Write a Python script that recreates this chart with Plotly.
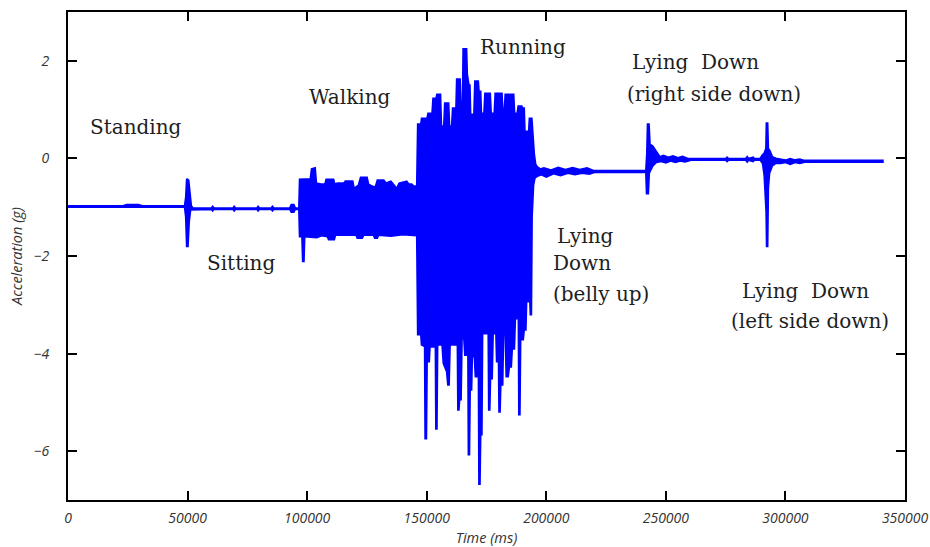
import plotly.graph_objects as go

# Accelerometer trace summarised as its upper and lower envelope:
# (time in ms, acceleration in g). The band between them is the signal.
upper_env = [
    # standing
    (0, -0.975), (23000, -0.975), (24500, -0.95), (29500, -0.95), (31000, -0.975),
    (48800, -0.975), (49300, -0.80), (49700, -0.42), (50400, -0.45), (50900, -0.75),
    (51500, -0.97), (52200, -1.02),
    # sitting
    (60000, -1.02), (60500, -0.99), (61000, -1.02), (69000, -1.02), (69500, -0.99),
    (70000, -1.02), (79000, -1.02), (79500, -0.99), (80000, -1.02), (85000, -1.02),
    (85500, -0.99), (86000, -1.02), (92800, -1.02), (93400, -0.95), (94400, -0.95),
    (95000, -1.02), (96600, -1.02),
    # walking
    (96900, -0.43), (101400, -0.42), (101900, -0.22), (103300, -0.20), (103800, -0.51),
    (105800, -0.53), (107500, -0.53), (108000, -0.43), (111000, -0.43), (111500, -0.53),
    (112800, -0.51), (115400, -0.51), (116000, -0.47), (119000, -0.47), (119600, -0.62),
    (121500, -0.55), (122400, -0.39), (125000, -0.39), (125600, -0.53), (127500, -0.58),
    (128600, -0.58), (129400, -0.45), (132000, -0.45), (133000, -0.51), (135000, -0.47),
    (136500, -0.55), (137500, -0.62), (138500, -0.51), (140500, -0.49), (141600, -0.47),
    (142500, -0.53), (143700, -0.53), (144500, -0.57), (145900, -0.57),
    # running
    (146300, 0.70), (147600, 0.70), (147900, 0.82), (150200, 0.82), (150600, 0.92),
    (152300, 0.92), (152700, 1.23), (154000, 1.23), (154300, 1.31), (155700, 1.31),
    (156100, 0.66), (157200, 0.66), (157600, 1.13), (159100, 1.13), (159500, 0.66),
    (160500, 0.66), (160900, 1.03), (162300, 1.03), (162600, 1.62), (163900, 1.62),
    (164300, 1.00), (165000, 1.00), (165300, 2.24), (166600, 2.24), (166900, 1.72),
    (167600, 1.50), (168000, 1.50), (168300, 0.90), (169800, 0.90), (170200, 1.58),
    (171500, 1.58), (171800, 1.37), (172500, 1.37), (172800, 0.92), (174000, 0.92),
    (174400, 1.33), (176500, 1.33), (176900, 0.92), (178300, 0.92), (178700, 1.33),
    (181400, 1.33), (181800, 0.96), (182500, 0.96), (182900, 1.31), (186300, 1.31),
    (186700, 0.92), (187900, 0.92), (188300, 1.07), (189700, 1.07), (190000, 1.03),
    (190700, 1.03), (191000, 0.55), (192700, 0.55), (193000, 0.82), (193900, 0.82),
    (194300, 0.41), (194900, 0.10), (195500, -0.12),
    # lying down, belly up
    (196300, -0.18), (197500, -0.22), (199000, -0.20), (202000, -0.24), (205000, -0.19),
    (208000, -0.23), (211000, -0.19), (214000, -0.23), (217000, -0.20), (220000, -0.255),
    (241700, -0.255),
    # roll onto the right side
    (242100, 0.10), (242400, 0.70), (242900, 0.70), (243300, 0.29), (244500, 0.25),
    (246300, 0.12), (247500, 0.03), (249000, 0.06), (251000, 0.02), (253000, 0.05),
    (255000, 0.01), (257000, 0.04), (259000, 0.00), (260500, -0.005),
    (275200, -0.005), (275600, 0.03), (276000, -0.005), (283500, -0.005), (284000, 0.03),
    (284500, -0.005), (286500, 0.02), (287000, -0.005),
    # roll onto the left side
    (289500, -0.005), (290300, 0.06), (291100, 0.10), (291900, 0.20), (292100, 0.72),
    (292500, 0.72), (292800, 0.20), (293500, 0.15), (294500, 0.03), (296000, 0.00),
    (298000, -0.02), (300000, -0.04), (302000, -0.01), (304000, -0.035), (306000, -0.02),
    (308000, -0.045), (340700, -0.045),
]

lower_env = [
    # standing
    (0, -0.995), (48800, -0.995), (49300, -1.20), (49700, -1.80), (50100, -1.80),
    (50600, -1.30), (51200, -1.05), (52200, -1.04),
    # sitting
    (60000, -1.04), (60500, -1.07), (61000, -1.04), (69000, -1.04), (69500, -1.07),
    (70000, -1.04), (79000, -1.04), (79500, -1.07), (80000, -1.04), (85000, -1.04),
    (85500, -1.07), (86000, -1.04), (92800, -1.04), (93400, -1.10), (94400, -1.10),
    (95000, -1.04), (96600, -1.04),
    # walking
    (96900, -1.60), (97900, -1.60), (98200, -2.11), (98600, -2.11), (98900, -1.60),
    (104000, -1.62), (106000, -1.58), (108500, -1.60), (109000, -1.66), (111300, -1.66),
    (111800, -1.57), (120500, -1.57), (121000, -1.63), (123000, -1.63), (123600, -1.57),
    (127800, -1.57), (128300, -1.63), (129300, -1.63), (129800, -1.57), (135000, -1.59),
    (140000, -1.56), (145900, -1.58),
    # running
    (146300, -3.61), (147600, -3.61), (147900, -3.82), (149200, -3.85), (149400, -5.74),
    (149800, -5.74), (150100, -4.16), (151000, -4.16), (151300, -3.86), (153700, -3.86),
    (153900, -5.54), (154200, -5.54), (154500, -3.82), (156500, -3.82), (157000, -4.20),
    (158400, -4.37), (158900, -4.64), (159300, -4.64), (159700, -3.82), (162900, -3.82),
    (163100, -5.15), (163400, -5.15), (163700, -4.94), (164300, -4.94), (164700, -3.69),
    (165600, -3.69), (166000, -4.03), (167300, -4.03), (167500, -6.07), (167800, -6.07),
    (168100, -4.74), (168700, -4.74), (169000, -4.06), (170000, -4.06), (170400, -4.47),
    (171700, -4.47), (171900, -6.67), (172200, -6.67), (172500, -5.66), (173000, -5.66),
    (173300, -3.59), (175800, -3.59), (176000, -5.15), (176300, -5.15), (176600, -4.51),
    (177300, -4.51), (177700, -3.59), (179000, -3.59), (179300, -4.16), (180100, -4.16),
    (180300, -5.19), (180600, -5.19), (180900, -4.64), (181700, -4.64), (182100, -3.55),
    (182900, -3.55), (183300, -4.47), (184000, -4.47), (184500, -4.27), (185300, -4.27),
    (185700, -3.90), (186600, -3.90), (187000, -3.28), (188400, -3.28), (188600, -5.25),
    (188900, -5.25), (189200, -3.71), (190300, -3.71), (190700, -3.51), (191400, -3.51),
    (191700, -2.93), (193200, -2.93), (193400, -3.20), (193700, -3.20), (194000, -1.20),
    (194600, -0.55), (195200, -0.40),
    # lying down, belly up
    (196300, -0.36), (198000, -0.33), (200000, -0.38), (203000, -0.31), (206000, -0.35),
    (209000, -0.30), (212000, -0.33), (215000, -0.30), (218000, -0.32), (220000, -0.285),
    (241700, -0.285),
    # roll onto the right side
    (242000, -0.72), (242600, -0.72), (243000, -0.30), (244500, -0.15), (246000, -0.08),
    (248000, -0.06), (250000, -0.09), (252000, -0.05), (254000, -0.08), (256000, -0.05),
    (258000, -0.07), (260500, -0.035),
    (275200, -0.035), (275600, -0.07), (276000, -0.035), (283500, -0.035), (284000, -0.07),
    (284500, -0.035), (286500, -0.06), (287000, -0.035),
    # roll onto the left side
    (289500, -0.035), (290500, -0.10), (291200, -0.35), (291600, -0.80), (292000, -1.10),
    (292200, -1.80), (292500, -1.80), (292800, -0.60), (293300, -0.30), (294500, -0.15),
    (296000, -0.10), (298000, -0.10), (300000, -0.08), (302000, -0.12), (304000, -0.08),
    (306000, -0.10), (308000, -0.075), (340700, -0.075),
]

# Activity labels written on the chart, one entry per text line
label_text = ["Standing", "Sitting", "Walking", "Running",
              "Lying", "Down", "(belly up)",
              "Lying\u00a0 Down", "(right side down)",
              "Lying\u00a0 Down", "(left side down)"]
label_t = [28400, 72300, 117900, 190300,
           216200, 215000, 222900,
           262600, 270200,
           308600, 310300]
label_g = [0.64, -2.15, 1.25, 2.28,
           -1.58, -2.15, -2.77,
           1.97, 1.33,
           -2.71, -3.34]

x_ticks = [0, 50000, 100000, 150000, 200000, 250000, 300000, 350000]
y_ticks = [-6, -4, -2, 0, 2]

BLUE = "#0000ff"

# closed outline: upper envelope forwards, lower envelope backwards
band_t = [p[0] for p in upper_env] + [p[0] for p in reversed(lower_env)]
band_g = [p[1] for p in upper_env] + [p[1] for p in reversed(lower_env)]

fig = go.Figure()
fig.add_trace(go.Scatter(
    x=band_t, y=band_g, mode="lines", fill="toself",
    fillcolor=BLUE, line=dict(color=BLUE, width=2),
    hoverinfo="skip", showlegend=False,
))

for txt, t, g in zip(label_text, label_t, label_g):
    fig.add_annotation(
        x=t, y=g, text=txt, showarrow=False,
        xanchor="center", yanchor="middle",
        font=dict(family="DejaVu Serif", size=20, color="#1e1e1e"),
    )

tick_font = dict(family="Open Sans", size=14, color="#333333", style="italic")
title_font = dict(family="Open Sans", size=14.5, color="#333333", style="italic")

axis_common = dict(
    showline=True, linecolor="black", linewidth=2, mirror="allticks",
    ticks="inside", ticklen=9, tickwidth=1.5, tickcolor="black",
    showgrid=False, zeroline=False, tickfont=tick_font, automargin=False,
    ticklabeloverflow="allow",
)

fig.update_xaxes(
    range=[0, 350000], tickvals=x_ticks, ticktext=[str(v) for v in x_ticks],
    title=dict(text="Time (ms)", font=title_font, standoff=11),
    ticklabelstandoff=4, **axis_common,
)
fig.update_yaxes(
    range=[-7, 3], tickvals=y_ticks,
    ticktext=[("\u2212" + str(-v)) if v < 0 else str(v) for v in y_ticks],
    title=dict(text="Acceleration (g)", font=title_font, standoff=8),
    ticklabelstandoff=14, **axis_common,
)

fig.update_layout(
    width=930, height=547,
    margin=dict(l=68, r=25, t=12, b=47),
    paper_bgcolor="white", plot_bgcolor="white",
    showlegend=False,
)

fig.write_html("out.html")
